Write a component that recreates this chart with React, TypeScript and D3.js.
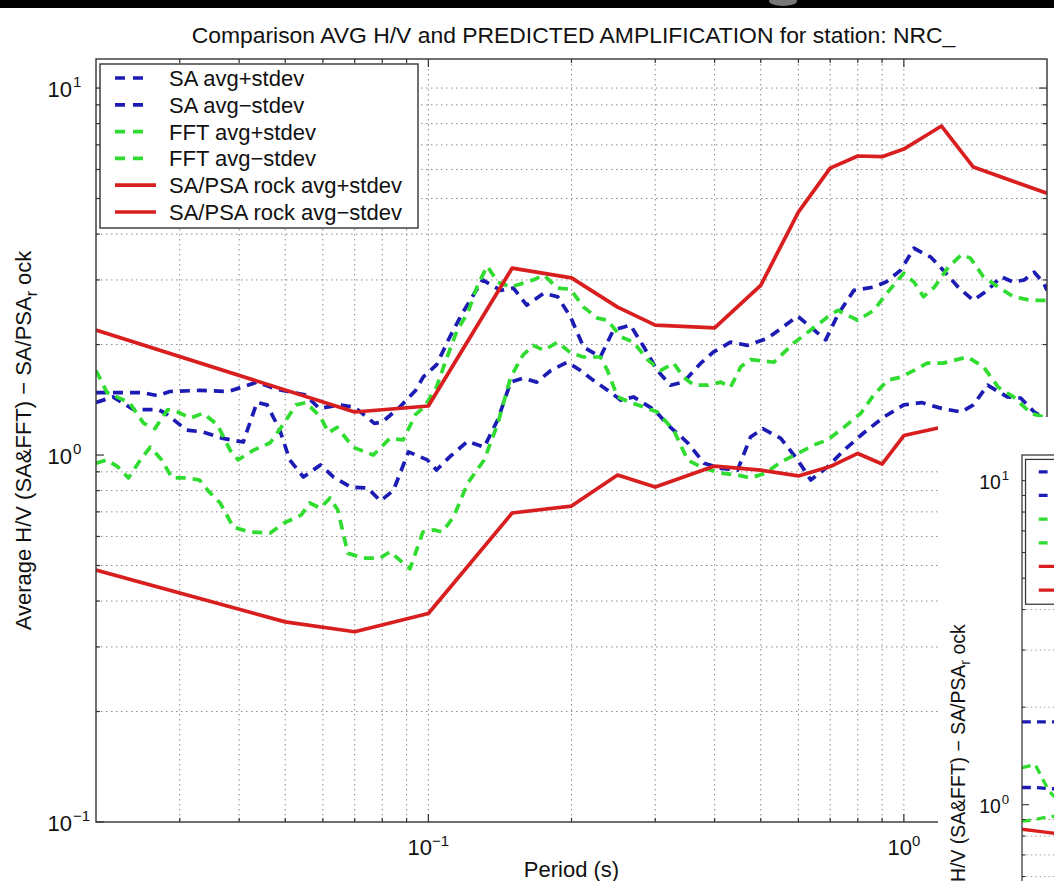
import React from 'react';
import * as d3 from 'd3';

// ---- data (period in s, amplitude) ----
const saPlusT = [0.02, 0.022, 0.025, 0.027, 0.0286, 0.033, 0.038, 0.0436, 0.048, 0.055, 0.059, 0.065, 0.07, 0.077, 0.08, 0.087, 0.094, 0.0975, 0.104, 0.111, 0.118, 0.13, 0.142, 0.151, 0.161, 0.175, 0.187, 0.199, 0.212, 0.23, 0.245, 0.266, 0.284, 0.303, 0.323, 0.344, 0.374, 0.398, 0.432, 0.469, 0.517, 0.598, 0.637, 0.685, 0.726, 0.785, 0.865, 0.917, 0.985, 1.05, 1.14, 1.21, 1.3, 1.4, 1.5, 1.6, 1.7, 1.79, 1.88, 1.97, 2.0];
const saPlusV = [1.48, 1.48, 1.48, 1.45, 1.49, 1.5, 1.49, 1.58, 1.51, 1.46, 1.34, 1.37, 1.35, 1.22, 1.23, 1.35, 1.5, 1.63, 1.76, 2.1, 2.44, 3.0, 2.81, 2.85, 2.56, 2.76, 2.7, 2.38, 1.97, 1.85, 2.19, 2.26, 1.97, 1.7, 1.55, 1.58, 1.78, 1.91, 2.03, 1.99, 2.08, 2.39, 2.23, 2.06, 2.41, 2.81, 2.87, 2.96, 3.19, 3.66, 3.46, 3.19, 2.87, 2.64, 2.81, 3.06, 2.96, 3.0, 3.15, 2.94, 2.81];

const saMinusT = [0.02, 0.0217, 0.024, 0.027, 0.028, 0.031, 0.0336, 0.037, 0.0408, 0.0436, 0.0458, 0.0487, 0.0511, 0.0546, 0.0593, 0.0632, 0.0686, 0.0745, 0.0793, 0.0844, 0.0908, 0.0995, 0.104, 0.111, 0.121, 0.131, 0.14, 0.149, 0.158, 0.169, 0.181, 0.196, 0.209, 0.222, 0.242, 0.254, 0.27, 0.298, 0.323, 0.351, 0.38, 0.412, 0.447, 0.476, 0.505, 0.551, 0.598, 0.637, 0.692, 0.748, 0.824, 0.908, 1.0, 1.09, 1.2, 1.32, 1.4, 1.5, 1.65, 1.76, 1.88, 2.0];
const saMinusV = [1.39, 1.44, 1.33, 1.33, 1.3, 1.17, 1.155, 1.11, 1.085, 1.39, 1.37, 1.17, 0.97, 0.871, 0.94, 0.871, 0.818, 0.813, 0.75, 0.8, 1.02, 0.97, 0.91, 0.99, 1.09, 1.05, 1.25, 1.58, 1.62, 1.58, 1.7, 1.79, 1.7, 1.6, 1.48, 1.41, 1.44, 1.33, 1.19, 1.08, 0.95, 0.92, 0.91, 1.12, 1.18, 1.11, 0.97, 0.855, 0.93, 1.03, 1.15, 1.27, 1.37, 1.39, 1.34, 1.31, 1.37, 1.55, 1.44, 1.43, 1.31, 1.25];

const fftPlusT = [0.02, 0.0211, 0.0235, 0.0252, 0.0266, 0.0283, 0.0297, 0.0316, 0.0336, 0.036, 0.0383, 0.0398, 0.0428, 0.0465, 0.0497, 0.0527, 0.0553, 0.0593, 0.0617, 0.0643, 0.0695, 0.0766, 0.083, 0.0885, 0.094, 0.098, 0.104, 0.109, 0.115, 0.121, 0.127, 0.133, 0.14, 0.149, 0.158, 0.166, 0.175, 0.187, 0.199, 0.212, 0.227, 0.238, 0.254, 0.27, 0.289, 0.308, 0.328, 0.344, 0.362, 0.387, 0.412, 0.432, 0.454, 0.476, 0.533, 0.587, 0.637, 0.692, 0.726, 0.8, 0.865, 0.925, 1.0, 1.05, 1.1, 1.16, 1.24, 1.32, 1.38, 1.47, 1.58, 1.7, 1.85, 2.0];
const fftPlusV = [1.7, 1.48, 1.39, 1.22, 1.18, 1.33, 1.31, 1.26, 1.3, 1.21, 1.03, 0.97, 1.03, 1.08, 1.22, 1.37, 1.39, 1.27, 1.15, 1.19, 1.05, 1.0, 1.11, 1.1, 1.29, 1.35, 1.53, 1.82, 2.19, 2.44, 2.91, 3.27, 2.96, 2.87, 2.94, 3.0, 3.09, 2.85, 2.83, 2.53, 2.36, 2.33, 2.1, 2.03, 1.82, 1.7, 1.78, 1.63, 1.55, 1.55, 1.58, 1.53, 1.74, 1.82, 1.79, 2.02, 2.19, 2.38, 2.48, 2.33, 2.48, 2.78, 3.13, 2.96, 2.7, 2.87, 3.25, 3.51, 3.44, 3.06, 2.87, 2.7, 2.64, 2.64];

const fftMinusT = [0.02, 0.0211, 0.0222, 0.0234, 0.0248, 0.026, 0.0275, 0.0289, 0.031, 0.033, 0.0344, 0.0365, 0.0389, 0.0421, 0.0465, 0.0497, 0.054, 0.0563, 0.0593, 0.0621, 0.0645, 0.0677, 0.073, 0.0793, 0.083, 0.0885, 0.0915, 0.0974, 0.103, 0.107, 0.113, 0.121, 0.131, 0.14, 0.149, 0.158, 0.166, 0.175, 0.187, 0.199, 0.212, 0.23, 0.238, 0.25, 0.266, 0.289, 0.303, 0.328, 0.351, 0.38, 0.412, 0.447, 0.476, 0.512, 0.551, 0.598, 0.647, 0.692, 0.748, 0.812, 0.865, 0.925, 0.985, 1.05, 1.12, 1.21, 1.36, 1.47, 1.58, 1.7, 1.85, 2.0];
const fftMinusV = [0.95, 0.97, 0.93, 0.866, 0.97, 1.05, 0.97, 0.866, 0.866, 0.855, 0.8, 0.74, 0.636, 0.617, 0.613, 0.653, 0.686, 0.74, 0.717, 0.764, 0.708, 0.54, 0.524, 0.524, 0.545, 0.508, 0.49, 0.617, 0.625, 0.617, 0.678, 0.839, 0.969, 1.22, 1.63, 1.87, 1.99, 1.93, 2.03, 1.9, 1.85, 1.85, 1.7, 1.44, 1.39, 1.34, 1.31, 1.17, 0.969, 0.92, 0.893, 0.882, 0.866, 0.893, 0.957, 1.01, 1.065, 1.1, 1.19, 1.3, 1.46, 1.6, 1.63, 1.7, 1.78, 1.78, 1.85, 1.74, 1.53, 1.44, 1.3, 1.26];

const rockPlusT = [0.02, 0.07, 0.1, 0.15, 0.2, 0.25, 0.3, 0.4, 0.5, 0.6, 0.7, 0.8, 0.9, 1.0, 1.2, 1.4, 2.0];
const rockPlusV = [2.19, 1.31, 1.36, 3.23, 3.04, 2.53, 2.26, 2.22, 2.9, 4.59, 6.05, 6.53, 6.5, 6.82, 7.88, 6.09, 5.17];
const rockMinusT = [0.02, 0.05, 0.07, 0.1, 0.15, 0.2, 0.25, 0.3, 0.4, 0.5, 0.6, 0.7, 0.8, 0.9, 1.0, 1.2, 1.4, 2.0];
const rockMinusV = [0.486, 0.351, 0.33, 0.37, 0.695, 0.726, 0.882, 0.818, 0.933, 0.91, 0.877, 0.93, 1.01, 0.945, 1.13, 1.19, 1.22, 1.25];

// second (overlapping) figure, only its left edge is visible
const inT = [0.02, 0.0215, 0.0232, 0.025, 0.03];
const inSaPlusV = [1.8, 1.8, 1.8, 1.8, 1.8];
const inSaMinusV = [1.13, 1.13, 1.12, 1.12, 1.1];
const inFftPlusV = [1.3, 1.33, 1.1, 1.0, 1.0];
const inFftMinusV = [0.89, 0.9, 0.92, 0.92, 0.9];
const inRockPlusV = [0.84, 0.83, 0.82, 0.81, 0.8];
const inRockMinusV = [0.3, 0.3, 0.29, 0.29, 0.28];

const legendLabels = ['SA avg+stdev', 'SA avg\u2212stdev', 'FFT avg+stdev', 'FFT avg\u2212stdev', 'SA/PSA rock avg+stdev', 'SA/PSA rock avg\u2212stdev'];
const xMajor = [0.1, 1];
const yMajor = [0.1, 1, 10];

const BLUE = '#1c1cb4';
const GREEN = '#2fdc2f';
const RED = '#d81e1e';
const FONT = 'Liberation Sans, Arial, Helvetica, sans-serif';

const W = 951, H = 763; // plot box in local units

function zip(t, v) {
    return t.map((p, i) => [p, v[i]]);
}

function expLabel(v) {
    const e = Math.round(Math.log10(v));
    return e < 0 ? '\u2212' + Math.abs(e) : String(e);
}

function Chart({x, y, k, series, id}) {

    const xs = d3.scaleLog().domain([0.02, 2]).range([0, W]);
    const ys = d3.scaleLog().domain([0.1, 12]).range([H, 0]);

    const line = d3.line().x(d => xs(d[0])).y(d => ys(d[1]));

    // minor positions (2..9 of each decade) inside the domain
    const xMinor = [];
    [0.01, 0.1, 1].forEach(d => d3.range(2, 10).forEach(m => {
        const v = d * m;
        if (v > 0.0201 && v < 1.99) xMinor.push(v);
    }));
    const yMinor = [];
    [0.1, 1].forEach(d => d3.range(2, 10).forEach(m => yMinor.push(d * m)));

    const xGrid = [...xMinor, ...xMajor];
    const yGrid = [...yMinor, 10];

    const rowH = 26.8;

    return (
        <g transform={`translate(${x}, ${y}) scale(${k})`} fontFamily={FONT}>
            <defs>
                <clipPath id={`plot_${id}`}>
                    <rect x={0} y={0} width={W} height={H} />
                </clipPath>
            </defs>
            <rect x={0} y={0} width={W} height={H} fill="#fff" />
            {xGrid.map((v, i) =>
                <line key={`gx_${i}`} x1={xs(v)} x2={xs(v)} y1={0} y2={H} stroke="#8a8a8a" strokeWidth={1} strokeDasharray="1.5,3.5" />
            )}
            {yGrid.map((v, i) =>
                <line key={`gy_${i}`} x1={0} x2={W} y1={ys(v)} y2={ys(v)} stroke="#8a8a8a" strokeWidth={1} strokeDasharray="1.5,3.5" />
            )}
            <g clipPath={`url(#plot_${id})`}>
                {series.map((s, i) =>
                    <path key={`s_${i}`} d={line(zip(s.t, s.v))} fill="none" stroke={s.color} strokeWidth={3.7}
                        strokeDasharray={s.dash ? '10,7' : null} strokeLinejoin="round" />
                )}
            </g>
            {/* ticks on all four sides, pointing inward */}
            {xMinor.map((v, i) =>
                <g key={`tx_${i}`} stroke="#333" strokeWidth={1.2}>
                    <line x1={xs(v)} x2={xs(v)} y1={H} y2={H - 4} />
                    <line x1={xs(v)} x2={xs(v)} y1={0} y2={4} />
                </g>
            )}
            {xMajor.map((v, i) =>
                <g key={`txm_${i}`} stroke="#333" strokeWidth={1.2}>
                    <line x1={xs(v)} x2={xs(v)} y1={H} y2={H - 8} />
                    <line x1={xs(v)} x2={xs(v)} y1={0} y2={8} />
                </g>
            )}
            {yMinor.map((v, i) =>
                <g key={`ty_${i}`} stroke="#333" strokeWidth={1.2}>
                    <line x1={0} x2={4} y1={ys(v)} y2={ys(v)} />
                    <line x1={W} x2={W - 4} y1={ys(v)} y2={ys(v)} />
                </g>
            )}
            {yMajor.map((v, i) =>
                <g key={`tym_${i}`} stroke="#333" strokeWidth={1.2}>
                    <line x1={0} x2={8} y1={ys(v)} y2={ys(v)} />
                    <line x1={W} x2={W - 8} y1={ys(v)} y2={ys(v)} />
                </g>
            )}
            <rect x={0} y={0} width={W} height={H} fill="none" stroke="#333" strokeWidth={1.4} />

            {/* tick labels */}
            {xMajor.map((v, i) =>
                <text key={`lx_${i}`} x={xs(v)} y={H + 33} textAnchor="middle" fontSize={22} fill="#111">
                    10<tspan dy={-9} fontSize={15}>{expLabel(v)}</tspan>
                </text>
            )}
            {yMajor.map((v, i) =>
                <g key={`ly_${i}`} fill="#111">
                    <text x={-24} y={ys(v) + 9} textAnchor="end" fontSize={22}>10</text>
                    <text x={-23} y={ys(v) - 1} textAnchor="start" fontSize={15}>{expLabel(v)}</text>
                </g>
            )}

            {/* title and axis labels */}
            <text x={W / 2 + 2} y={-16} textAnchor="middle" fontSize={22.9} fill="#111">
                Comparison AVG H/V and PREDICTED AMPLIFICATION for station: NRC_
            </text>
            <text x={W / 2} y={H + 55} textAnchor="middle" fontSize={22} fill="#111">Period (s)</text>
            <text transform={`translate(-65, ${H / 2}) rotate(-90)`} textAnchor="middle" fontSize={22} fill="#111">
                Average H/V (SA&amp;FFT) {'\u2212'} SA/PSA<tspan dy={6} fontSize={16}>r</tspan><tspan dy={-6}> ock</tspan>
            </text>

            {/* legend */}
            <g transform="translate(4, 5)">
                <rect x={0} y={0} width={318} height={164} fill="#fff" stroke="#333" strokeWidth={1.4} />
                {series.map((s, i) =>
                    <g key={`lg_${i}`} transform={`translate(0, ${14 + rowH * i})`}>
                        <line x1={15} x2={s.dash ? 50 : 56} y1={0} y2={0} stroke={s.color} strokeWidth={3.7}
                            strokeDasharray={s.dash ? '10,8' : null} />
                        <text x={69} y={8} fontSize={22} fill="#111">{legendLabels[i]}</text>
                    </g>
                )}
            </g>
        </g>
    );
}

export default function App() {

    const mainSeries = [
        {t: saPlusT, v: saPlusV, color: BLUE, dash: true},
        {t: saMinusT, v: saMinusV, color: BLUE, dash: true},
        {t: fftPlusT, v: fftPlusV, color: GREEN, dash: true},
        {t: fftMinusT, v: fftMinusV, color: GREEN, dash: true},
        {t: rockPlusT, v: rockPlusV, color: RED, dash: false},
        {t: rockMinusT, v: rockMinusV, color: RED, dash: false},
    ];

    const insetSeries = [
        {t: inT, v: inSaPlusV, color: BLUE, dash: true},
        {t: inT, v: inSaMinusV, color: BLUE, dash: true},
        {t: inT, v: inFftPlusV, color: GREEN, dash: true},
        {t: inT, v: inFftMinusV, color: GREEN, dash: true},
        {t: inT, v: inRockPlusV, color: RED, dash: false},
        {t: inT, v: inRockMinusV, color: RED, dash: false},
    ];

    return (
        <svg width={1054} height={881} xmlns="http://www.w3.org/2000/svg"
            style={{position: 'absolute', left: 0, top: 0, display: 'block'}}>
            <rect x={0} y={0} width={1054} height={881} fill="#fff" />
            <Chart x={96} y={59} k={1} series={mainSeries} id="main" />

            {/* second screenshot pasted over the bottom right corner */}
            <defs>
                <clipPath id="insetClip">
                    <rect x={938} y={417} width={116} height={464} />
                </clipPath>
            </defs>
            <g clipPath="url(#insetClip)">
                <rect x={938} y={417} width={116} height={464} fill="#fff" />
                <Chart x={1022} y={455} k={0.883} series={insetSeries} id="inset" />
            </g>

            {/* dark strip at the top edge */}
            <rect x={0} y={0} width={1054} height={8} fill="#000" />
            <ellipse cx={783} cy={1} rx={14} ry={5} fill="#777" />
        </svg>
    );
}
